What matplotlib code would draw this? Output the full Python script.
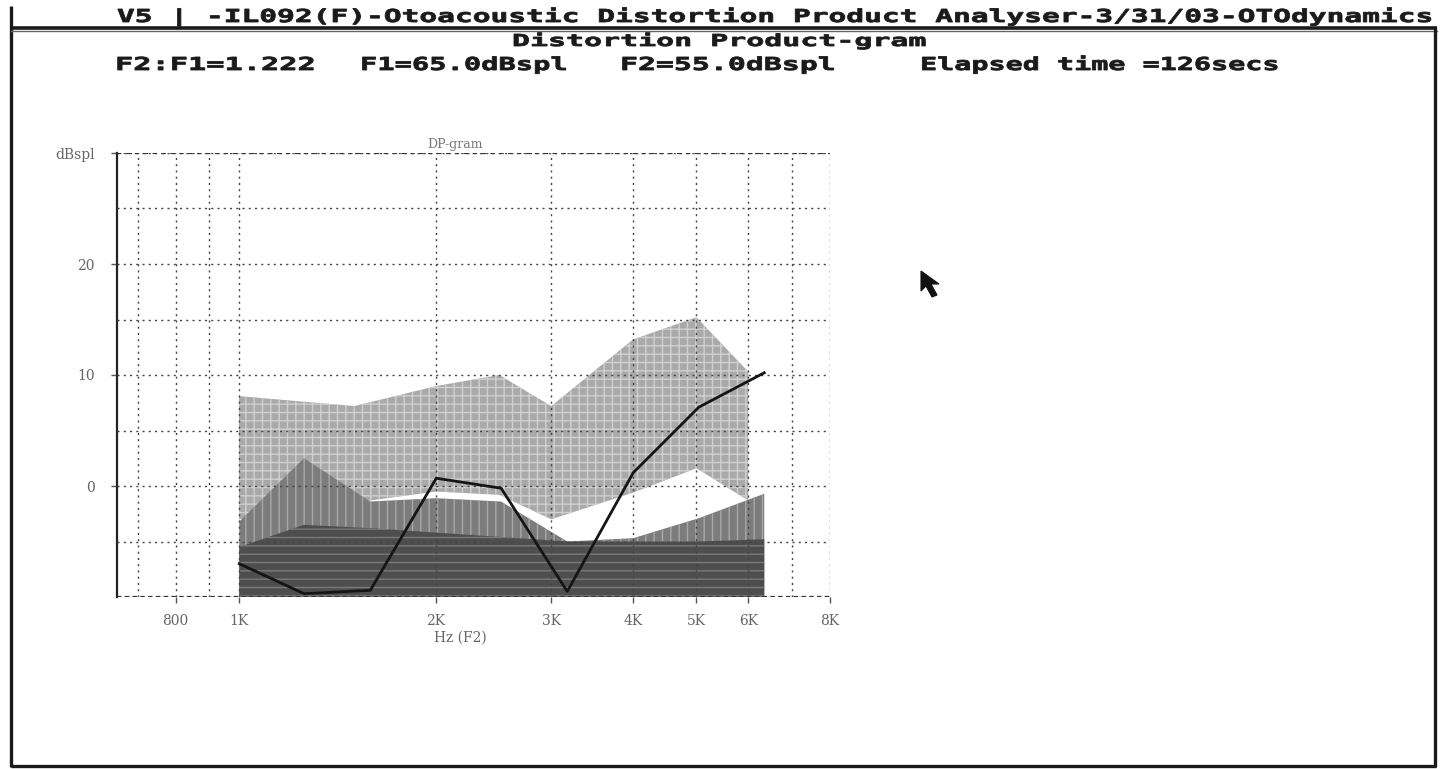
import matplotlib
matplotlib.use("Agg")
import matplotlib.pyplot as plt
from matplotlib import patheffects
from matplotlib.lines import Line2D
from matplotlib.patches import Polygon
from matplotlib.transforms import Affine2D
from matplotlib.ticker import FixedLocator, NullLocator, NullFormatter

# ---------------- data ----------------
# normal range band (F2 frequency, dB SPL)
norm_freq = [1000, 1500, 2000, 2500, 3000, 4000, 5000, 6000]
norm_upper = [8.1, 7.2, 9.0, 10.0, 7.2, 13.2, 15.2, 10.3]
norm_lower = [-3.0, -1.5, -0.5, -0.8, -3.0, -0.6, 1.6, -1.3]

# measured DP points and noise estimates
dp_freq = [1001, 1257, 1587, 2002, 2515, 3174, 4004, 5042, 6348]
dp_level = [-7.0, -9.7, -9.4, 0.7, -0.2, -9.5, 1.2, 7.1, 10.2]
noise_2sd = [-3.2, 2.5, -1.4, -1.1, -1.4, -5.0, -4.7, -2.9, -0.7]
noise_floor = [-5.5, -3.5, -3.8, -4.2, -4.6, -5.0, -5.0, -5.0, -4.8]

grid_freqs = [700, 800, 900, 1000, 2000, 3000, 4000, 5000, 6000, 7000, 8000]
grid_levels = [-10, -5, 0, 5, 10, 15, 20, 25, 30]
xtick_freqs = [800, 1000, 2000, 3000, 4000, 5000, 6000, 8000]
xtick_labels = ["800", "1K", "2K", "3K", "4K", "5K", "6K", "8K"]
ytick_vals = [0, 10, 20, 30]
ytick_labels = ["0", "10", "20", "dBspl"]

header = "V5 | -IL092(F)-Otoacoustic Distortion Product Analyser-3/31/03-OTOdynamics"
panel_title = "Distortion Product-gram"
settings = ["F2:F1=1.222", "F1=65.0dBspl", "F2=55.0dBspl", "Elapsed time =126secs"]

# ---------------- figure ----------------
W, H = 1447, 769
DPI = 100
fig = plt.figure(figsize=(W / DPI, H / DPI), dpi=DPI, facecolor="white")


def fx(px):
    return px / W


def fy(py):
    return 1 - py / H


class Stretch(patheffects.AbstractPathEffect):
    """Draw text glyphs scaled horizontally about the text origin, emboldened."""

    def __init__(self, sx=1.0, sy=1.0, lw=0.0):
        super().__init__()
        self.sx, self.sy, self.lw = sx, sy, lw

    def draw_path(self, renderer, gc, tpath, affine, rgbFace=None):
        aff = Affine2D().scale(self.sx, self.sy) + affine
        gc0 = renderer.new_gc()
        gc0.copy_properties(gc)
        if self.lw > 0 and rgbFace is not None:
            gc0.set_linewidth(self.lw)
            gc0.set_foreground(rgbFace)
            gc0.set_joinstyle("miter")
        renderer.draw_path(gc0, tpath, aff, rgbFace)
        gc0.restore()


renderer = fig.canvas.get_renderer()


def screen_text(s, x0, x1, baseline, cap_px, color="#1a1a1a"):
    size_pt = cap_px / 0.729 * 72 / DPI
    t = fig.text(fx(x0), fy(baseline), s, ha="left", va="baseline",
                 family="DejaVu Sans Mono", weight="bold", fontsize=size_pt,
                 color=color)
    width = t.get_window_extent(renderer).width
    t.set_path_effects([Stretch((x1 - x0) / width, 1.0, lw=0.6)])
    return t


# screen header and settings line
screen_text(header, 117, 1435, 22, 13)
screen_text(panel_title, 512, 925, 46, 12)
for s, (a, b) in zip(settings, [(115, 316), (360, 568), (620, 836), (920, 1280)]):
    screen_text(s, a, b, 70, 13)

# window frame
frame_kw = dict(color="#1a1a1a", transform=fig.transFigure, solid_capstyle="butt")
fig.add_artist(Line2D([fx(11), fx(11)], [fy(6), fy(767)], lw=2.4, **frame_kw))
fig.add_artist(Line2D([fx(11), fx(1437)], [fy(28), fy(28)], lw=2.6, **frame_kw))
fig.add_artist(Line2D([fx(11), fx(1437)], [fy(31), fy(31)], lw=1.0, color="#666666",
                      transform=fig.transFigure))
fig.add_artist(Line2D([fx(1435), fx(1435)], [fy(28), fy(767)], lw=2.4, **frame_kw))
fig.add_artist(Line2D([fx(11), fx(1436)], [fy(766), fy(766)], lw=2.4, **frame_kw))

# mouse pointer
pointer = [(921, 271), (921, 291), (926, 286), (932, 297), (937, 295), (931, 284), (939, 284)]
fig.add_artist(Polygon([(fx(x), fy(y)) for x, y in pointer], closed=True,
                       facecolor="#111111", edgecolor="#111111", lw=0.8,
                       transform=fig.transFigure))

# ---------------- DP-gram axes ----------------
ax = fig.add_axes([fx(117), fy(597), fx(830) - fx(117), fy(153) - fy(597)])
ax.set_xscale("log")
ax.set_xlim(651, 8000)
ax.set_ylim(-10, 30)
ax.set_facecolor("white")

plt.rcParams["hatch.linewidth"] = 1.0

# normal range band
ax.fill_between(norm_freq, norm_lower, norm_upper, facecolor="#a9a9a9",
                edgecolor="#d0d0d0", hatch="++", linewidth=0, zorder=1)
# noise + 2 SD
ax.fill_between(dp_freq, -10, noise_2sd, facecolor="#7c7c7c",
                edgecolor="#a8a8a8", hatch="||", linewidth=0, zorder=2)
# noise floor
ax.fill_between(dp_freq, -10, noise_floor, facecolor="#4e4e4e",
                edgecolor="#7a7a7a", hatch="--", linewidth=0, zorder=3)

# dotted grid
grid_kw = dict(color="#444444", lw=1.0, linestyle=(0, (1.5, 3.0)), zorder=4)
for f in grid_freqs:
    ax.axvline(f, **grid_kw)
for v in grid_levels:
    ax.axhline(v, **grid_kw)
ax.axhline(30, color="#333333", lw=1.6, linestyle=(0, (2, 2)), zorder=4)
ax.axhline(-10, color="#333333", lw=1.6, linestyle=(0, (2, 1.5)), zorder=4)

# DP amplitude
ax.plot(dp_freq, dp_level, color="#151515", lw=2.0, zorder=6)

for side in ["top", "right", "bottom"]:
    ax.spines[side].set_visible(False)
ax.spines["left"].set_color("#222222")
ax.spines["left"].set_linewidth(1.6)

ax.xaxis.set_major_locator(FixedLocator(xtick_freqs))
ax.xaxis.set_minor_locator(NullLocator())
ax.xaxis.set_minor_formatter(NullFormatter())
ax.set_xticklabels(xtick_labels)
ax.set_yticks(ytick_vals)
ax.set_yticklabels(ytick_labels)
ax.tick_params(axis="x", length=4, width=1, color="#555555", pad=8,
               labelsize=10, labelcolor="#666666")
ax.tick_params(axis="y", length=4, width=1, color="#555555", pad=12,
               labelsize=10, labelcolor="#666666")
for lab in ax.get_xticklabels() + ax.get_yticklabels():
    lab.set_family("DejaVu Serif")

ax.set_xlabel("Hz (F2)", fontsize=10, color="#666666", family="DejaVu Serif",
              labelpad=-2)
ax.xaxis.set_label_coords((fx(460) - fx(117)) / (fx(830) - fx(117)), -0.075)
ax.text(0.435, 1.005, "DP-gram", transform=ax.transAxes, ha="left", va="bottom",
        fontsize=9, color="#777777", family="DejaVu Serif")

fig.savefig("out.png", dpi=DPI, facecolor="white")
